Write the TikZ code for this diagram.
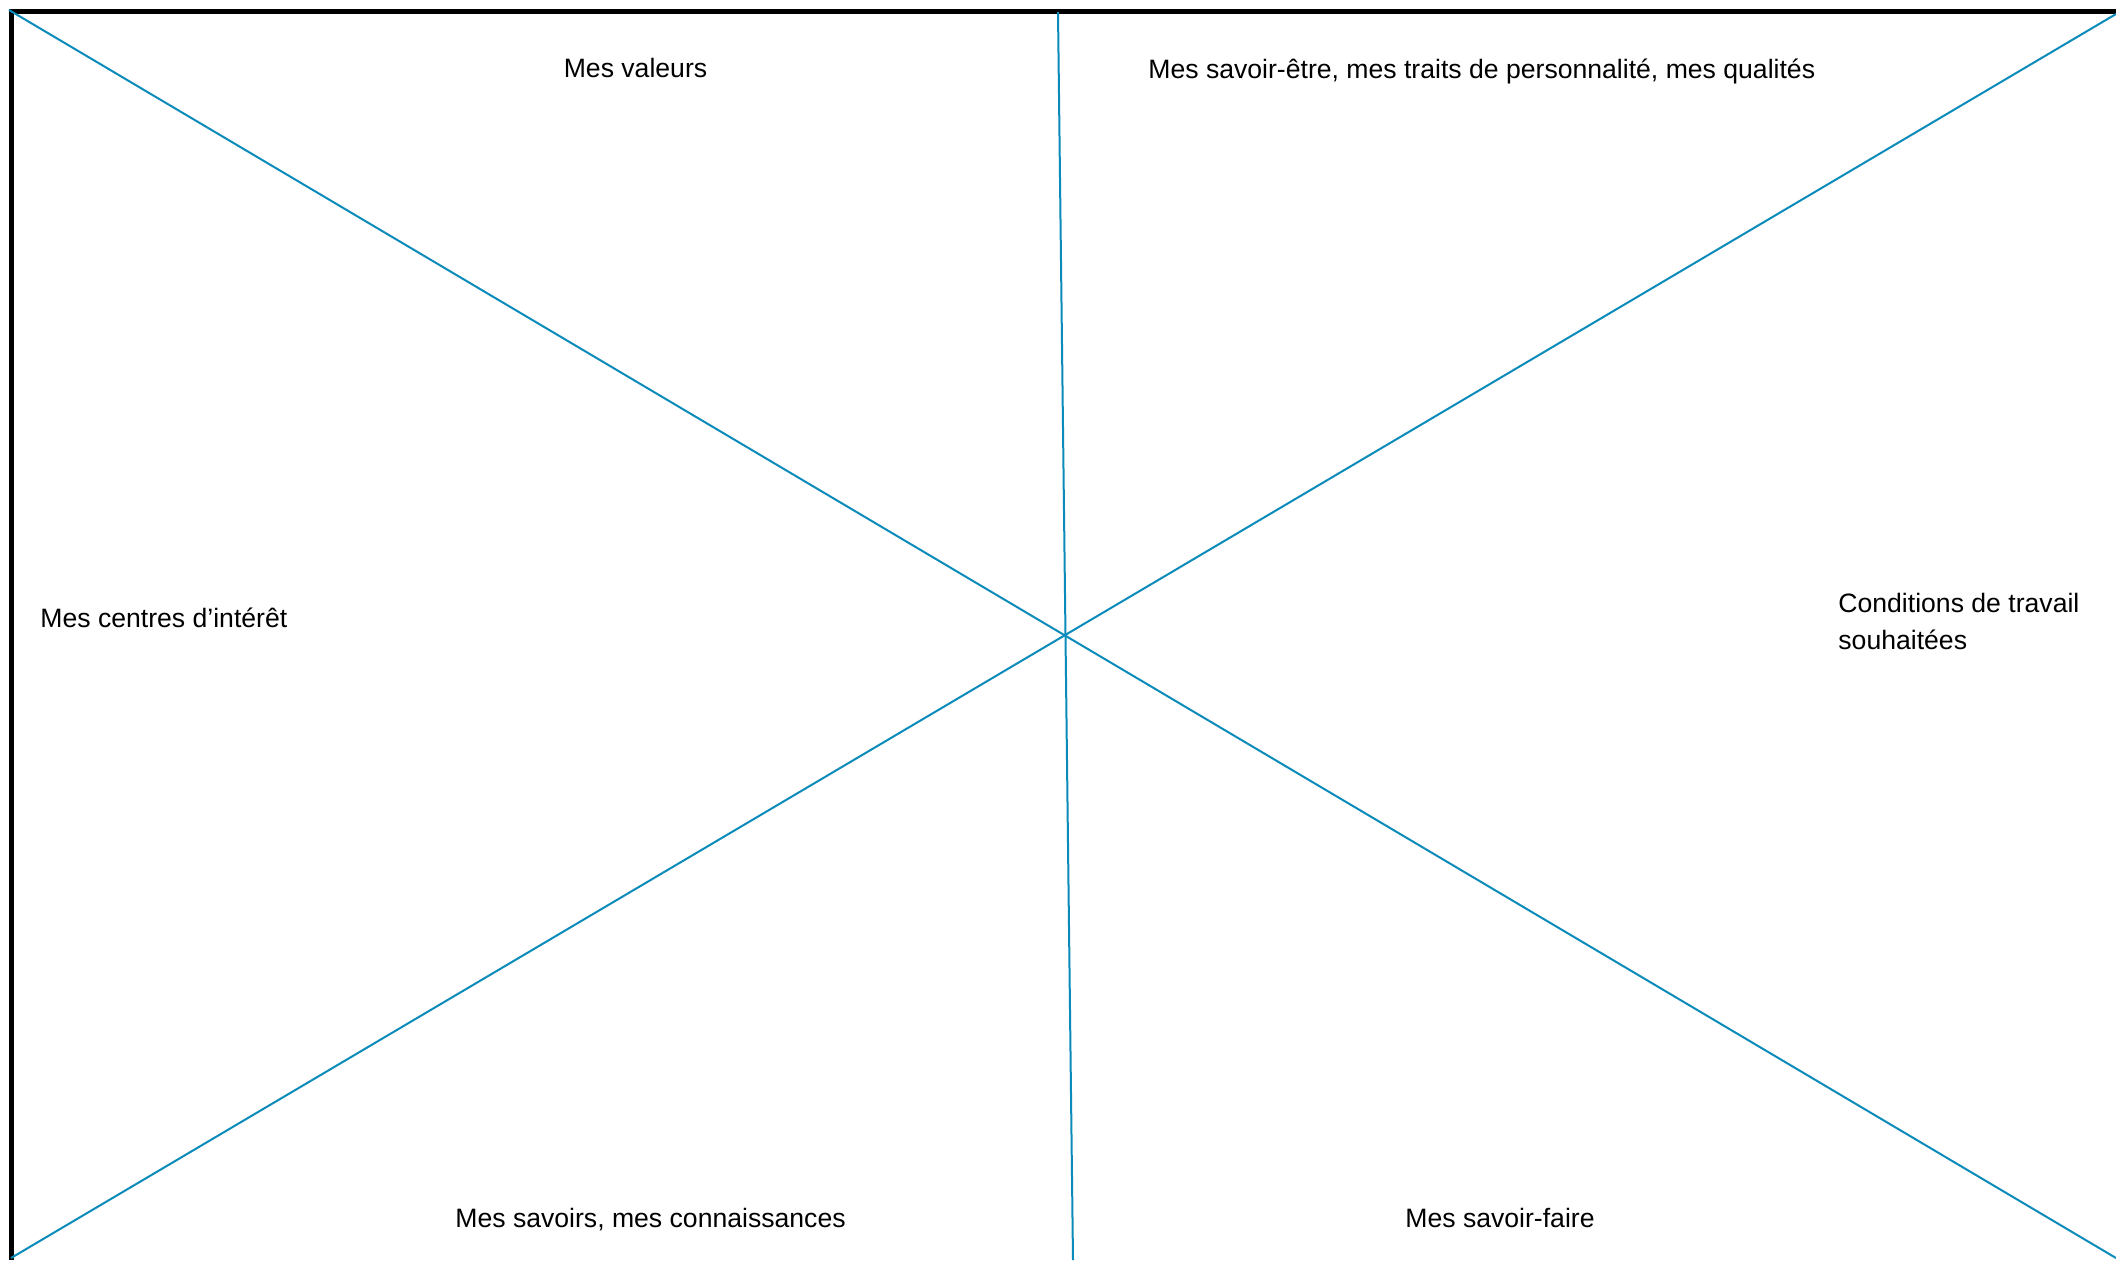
\documentclass[tikz,border=0pt]{standalone}
\usepackage{fontspec}
\setmainfont{Liberation Sans}
\usetikzlibrary{positioning}
\definecolor{bleu}{HTML}{0A8BB9}
\definecolor{ink}{HTML}{000000}

\begin{document}
\begin{tikzpicture}[
    x=0.5pt,y=-0.5pt,   % 1 unit = 1 px of the sheet, y going down
    font=\fontsize{13.3}{18.35}\selectfont,
    cadre/.style={draw=ink,line width=2.5pt,line join=miter},
    rayon/.style={draw=bleu,line width=1pt},
    rubrique/.style={text=ink,inner sep=0pt},
  ]
  \useasboundingbox (0,0) rectangle (2116,1260);

  % ============================================================= FRAME
  \coordinate (cadreb) at (11.5,1260);
  \coordinate (cadrec) at (11.5,11.5);
  \coordinate (cadred) at (2116,11.5);
  \draw[cadre] (cadreb) -- (cadrec) -- (cadred);

  % ============================================================= RAYS
  % two diagonals corner to corner + the slightly slanted middle line
  \coordinate (no) at (9,10);
  \coordinate (se) at (2116,1258);
  \coordinate (ne) at (2116,14);
  \coordinate (so) at (11,1258);
  \coordinate (n)  at (1058,12);
  \coordinate (s)  at (1073,1260);
  \foreach \a/\b in {no/se, ne/so, n/s}{
    \draw[rayon] (\a) -- (\b);
  }

  % ============================================================= LABELS
  \node[rubrique,anchor=base] (valeurs) at (635.5,77) {Mes valeurs};
  \node[rubrique,anchor=base west] (savetre) at (1148,78)
    {Mes savoir-être, mes traits de personnalité, mes qualités};
  \node[rubrique,anchor=base west] (centres) at (40,627)
    {Mes centres d’intérêt};
  % base of a two-line node sits on its last line
  \node[rubrique,anchor=base west,align=left] (conditions) at (1838,649.5)
    {Conditions de travail\\souhaitées};
  \node[rubrique,anchor=base west] (savoirs) at (455,1227)
    {Mes savoirs, mes connaissances};
  \node[rubrique,anchor=base west] (savfaire) at (1405,1227)
    {Mes savoir-faire};

\end{tikzpicture}
\end{document}
